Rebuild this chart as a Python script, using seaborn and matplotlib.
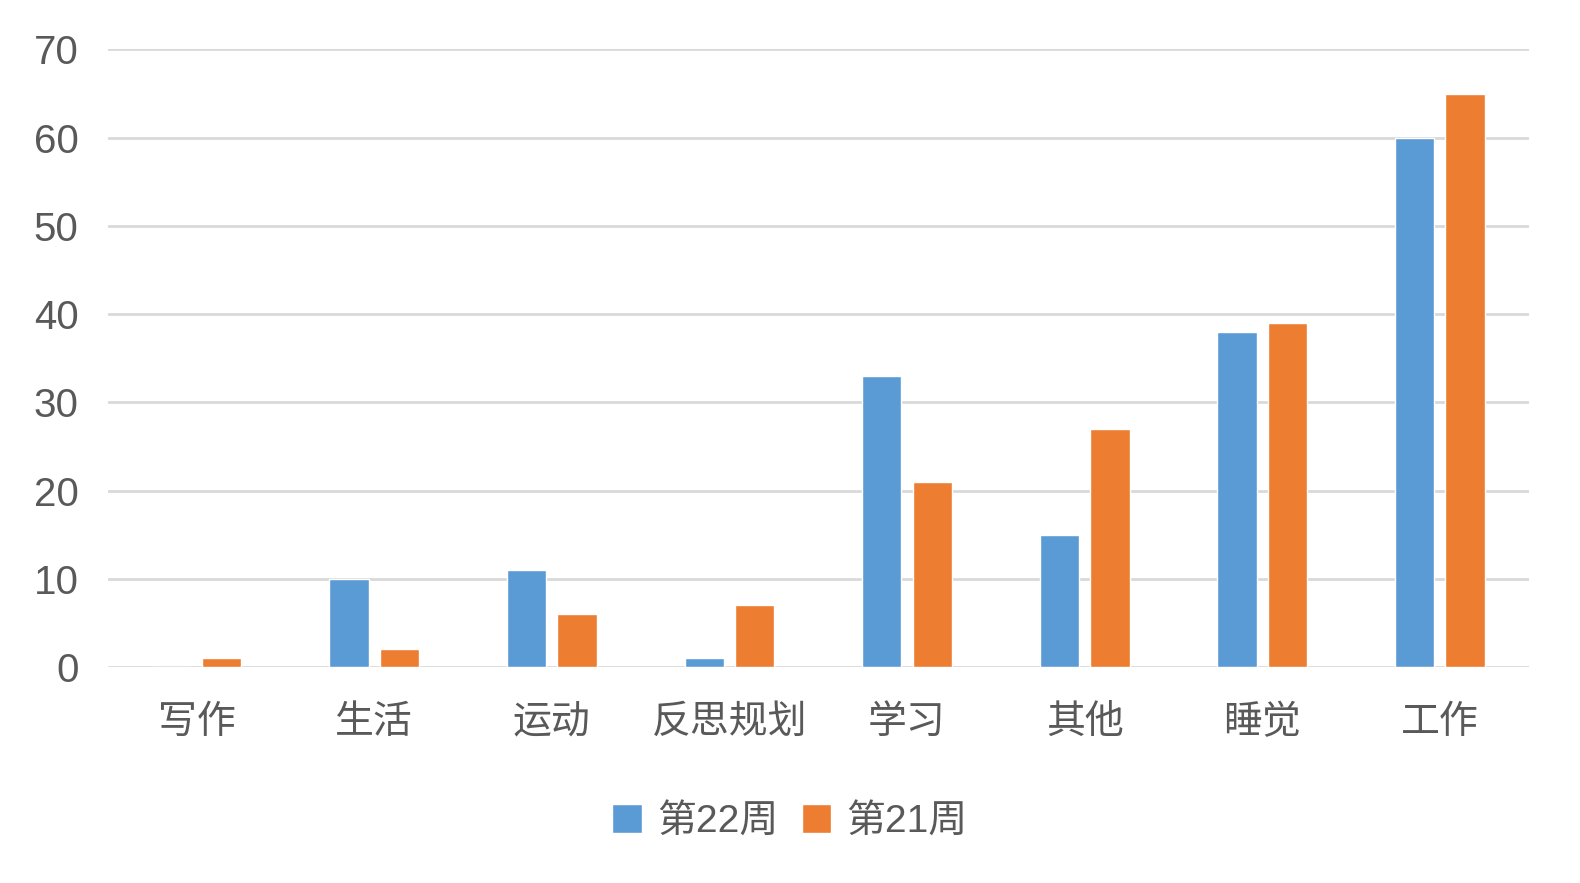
import pandas as pd
import matplotlib.pyplot as plt
import seaborn as sns

# weekly time usage by category
categories = ["写作", "生活", "运动", "反思规划", "学习", "其他", "睡觉", "工作"]
week22 = [0, 10, 11, 1, 33, 15, 38, 60]
week21 = [1, 2, 6, 7, 21, 27, 39, 65]
series_names = ["第22周", "第21周"]

df = pd.DataFrame({
    "类别": categories * 2,
    "时间": week22 + week21,
    "周": [series_names[0]] * len(categories) + [series_names[1]] * len(categories),
})

sns.set_theme(style="white")
plt.rcParams['font.family'] = ['Liberation Sans', 'Noto Sans CJK SC']
text_color = "#595959"

fig = plt.figure(figsize=(15.8, 8.83), dpi=100)
ax = fig.add_axes([0.0682, 0.2445, 0.8993, 0.6995])

sns.barplot(data=df, x="类别", y="时间", hue="周", order=categories,
            hue_order=series_names, palette=["#5B9BD5", "#ED7D31"],
            width=0.568, gap=0.22, saturation=1, ax=ax, legend=True)

ax.set_ylim(0, 70)
ax.set_yticks(range(0, 71, 10))
ax.yaxis.grid(True, color="#D9D9D9", linewidth=2)
ax.set_axisbelow(True)
sns.despine(ax=ax, left=True, bottom=True)
ax.set_xlabel("")
ax.set_ylabel("")
ax.tick_params(axis="y", labelsize=29, colors=text_color, length=0, pad=21)
ax.tick_params(axis="x", labelsize=28, colors=text_color, length=0, pad=27)

handles, labels = ax.get_legend_handles_labels()
ax.get_legend().remove()
fig.legend(handles, labels, loc="center", bbox_to_anchor=(0.5, 0.069), ncol=2,
           frameon=False, fontsize=28, labelcolor=text_color,
           handlelength=0.75, handleheight=0.75, handletextpad=0.4, columnspacing=0.6)

fig.savefig("out.png", dpi=100, facecolor="white")
